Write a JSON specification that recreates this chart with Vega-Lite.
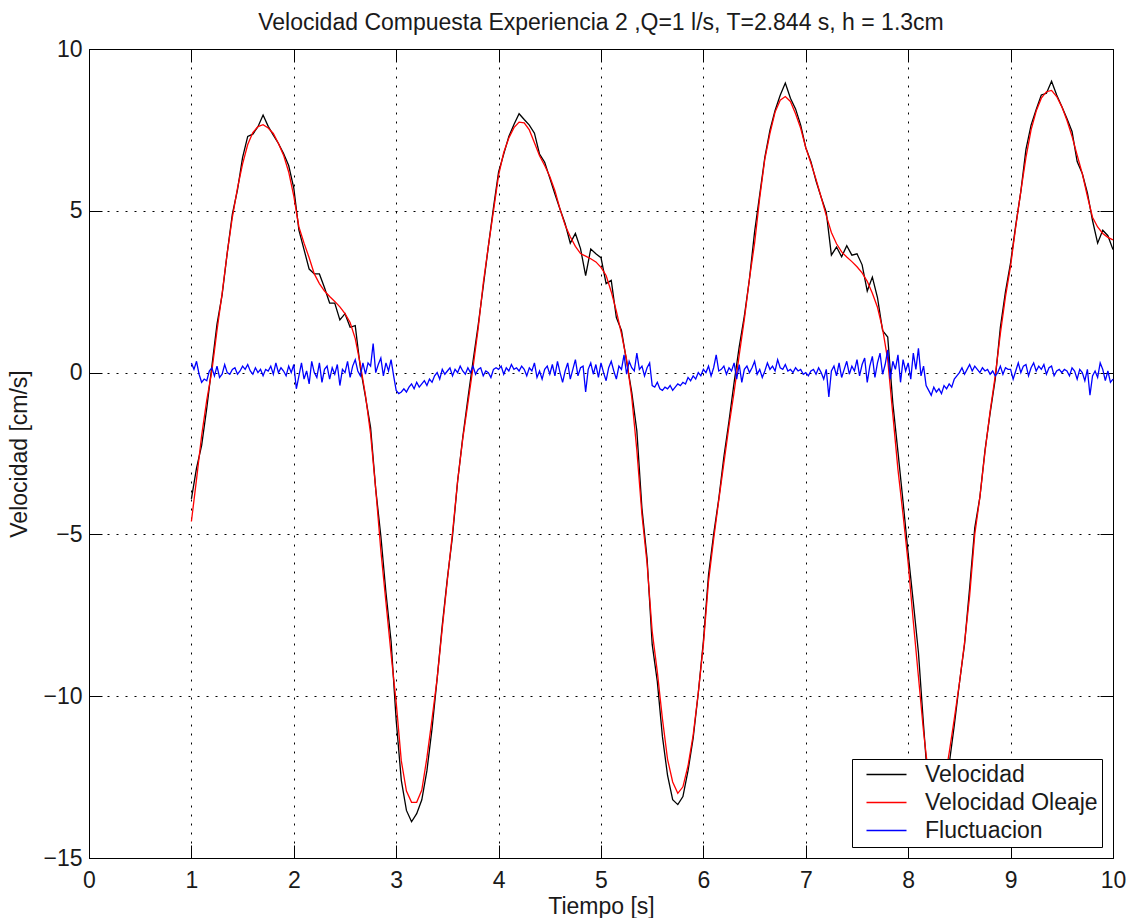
{
"$schema":"https://vega.github.io/schema/vega-lite/v6.json",
"width":1024,"height":809,
"autosize":{"type":"none"},
"padding":{"left":89,"top":49,"right":17,"bottom":60},
"background":"white",
"title":{"text":"Velocidad Compuesta Experiencia 2 ,Q=1 l/s, T=2.844 s, h = 1.3cm","fontSize":23,"fontWeight":"normal","color":"#1a1a1a","anchor":"middle","frame":"group","offset":3,"font":"Liberation Sans"},
"datasets":{
"ole":[{"t":1,"v":-4.6},{"t":1.05,"v":-3.3},{"t":1.1,"v":-1.95},{"t":1.15,"v":-0.85},{"t":1.2,"v":0.05},{"t":1.25,"v":1.3},{"t":1.3,"v":2.45},{"t":1.35,"v":3.7},{"t":1.4,"v":4.8},{"t":1.45,"v":5.7},{"t":1.5,"v":6.45},{"t":1.55,"v":7.05},{"t":1.6,"v":7.42},{"t":1.65,"v":7.6},{"t":1.7,"v":7.66},{"t":1.75,"v":7.56},{"t":1.8,"v":7.39},{"t":1.85,"v":7.08},{"t":1.9,"v":6.72},{"t":1.95,"v":6.2},
{"t":2,"v":5.45},{"t":2.05,"v":4.5},{"t":2.1,"v":4.0},{"t":2.15,"v":3.55},{"t":2.2,"v":3.05},{"t":2.25,"v":2.75},{"t":2.3,"v":2.52},{"t":2.35,"v":2.35},{"t":2.4,"v":2.2},{"t":2.45,"v":2.03},{"t":2.5,"v":1.82},{"t":2.55,"v":1.55},{"t":2.6,"v":1.05},{"t":2.65,"v":0.25},{"t":2.7,"v":-0.7},{"t":2.75,"v":-1.9},{"t":2.8,"v":-3.6},{"t":2.85,"v":-5.5},{"t":2.9,"v":-7.1},{"t":2.95,"v":-8.7},
{"t":3,"v":-10.2},{"t":3.05,"v":-12.0},{"t":3.1,"v":-12.93},{"t":3.15,"v":-13.28},{"t":3.2,"v":-13.28},{"t":3.25,"v":-12.9},{"t":3.3,"v":-11.9},{"t":3.35,"v":-10.7},{"t":3.4,"v":-9.45},{"t":3.45,"v":-7.9},{"t":3.5,"v":-6.4},{"t":3.55,"v":-4.95},{"t":3.6,"v":-3.35},{"t":3.65,"v":-2.05},{"t":3.7,"v":-0.95},{"t":3.75,"v":0.15},{"t":3.8,"v":1.35},{"t":3.85,"v":2.76},{"t":3.9,"v":3.9},{"t":3.95,"v":5.0},
{"t":4,"v":6.1},{"t":4.05,"v":6.8},{"t":4.1,"v":7.25},{"t":4.15,"v":7.57},{"t":4.2,"v":7.74},{"t":4.25,"v":7.72},{"t":4.3,"v":7.5},{"t":4.35,"v":7.1},{"t":4.4,"v":6.7},{"t":4.45,"v":6.4},{"t":4.5,"v":6.06},{"t":4.55,"v":5.62},{"t":4.6,"v":5.05},{"t":4.65,"v":4.55},{"t":4.7,"v":4.2},{"t":4.75,"v":3.9},{"t":4.8,"v":3.68},{"t":4.85,"v":3.6},{"t":4.9,"v":3.52},{"t":4.95,"v":3.42},
{"t":5,"v":3.25},{"t":5.05,"v":3.0},{"t":5.1,"v":2.5},{"t":5.15,"v":1.9},{"t":5.2,"v":1.2},{"t":5.25,"v":0.4},{"t":5.3,"v":-0.75},{"t":5.35,"v":-2.4},{"t":5.4,"v":-4.4},{"t":5.45,"v":-5.9},{"t":5.5,"v":-8.0},{"t":5.55,"v":-9.25},{"t":5.6,"v":-10.7},{"t":5.65,"v":-11.95},{"t":5.7,"v":-12.65},{"t":5.75,"v":-13.0},{"t":5.8,"v":-12.8},{"t":5.85,"v":-12.15},{"t":5.9,"v":-11.2},{"t":5.95,"v":-9.9},
{"t":6,"v":-8.4},{"t":6.05,"v":-6.45},{"t":6.1,"v":-5.15},{"t":6.15,"v":-3.95},{"t":6.2,"v":-2.8},{"t":6.25,"v":-1.65},{"t":6.3,"v":-0.6},{"t":6.35,"v":0.55},{"t":6.4,"v":1.65},{"t":6.45,"v":2.9},{"t":6.5,"v":4.0},{"t":6.55,"v":5.4},{"t":6.6,"v":6.6},{"t":6.65,"v":7.39},{"t":6.7,"v":8.05},{"t":6.75,"v":8.42},{"t":6.8,"v":8.53},{"t":6.85,"v":8.38},{"t":6.9,"v":8.0},{"t":6.95,"v":7.55},
{"t":7,"v":6.95},{"t":7.05,"v":6.47},{"t":7.1,"v":5.97},{"t":7.15,"v":5.42},{"t":7.2,"v":4.85},{"t":7.25,"v":4.33},{"t":7.3,"v":3.98},{"t":7.35,"v":3.73},{"t":7.4,"v":3.57},{"t":7.45,"v":3.43},{"t":7.5,"v":3.27},{"t":7.55,"v":3.08},{"t":7.6,"v":2.82},{"t":7.65,"v":2.45},{"t":7.7,"v":2.02},{"t":7.75,"v":1.35},{"t":7.8,"v":0.4},{"t":7.85,"v":-1.3},{"t":7.9,"v":-3.0},{"t":7.95,"v":-4.4},
{"t":8,"v":-5.9},{"t":8.05,"v":-7.7},{"t":8.1,"v":-9.4},{"t":8.15,"v":-11.1},{"t":8.2,"v":-12.5},{"t":8.25,"v":-13.1},{"t":8.3,"v":-13.2},{"t":8.35,"v":-12.7},{"t":8.4,"v":-11.75},{"t":8.45,"v":-10.7},{"t":8.5,"v":-9.6},{"t":8.55,"v":-8.35},{"t":8.6,"v":-6.9},{"t":8.65,"v":-5.0},{"t":8.7,"v":-3.85},{"t":8.75,"v":-2.45},{"t":8.8,"v":-1.2},{"t":8.85,"v":-0.1},{"t":8.9,"v":1.2},{"t":8.95,"v":2.35},
{"t":9,"v":3.3},{"t":9.05,"v":4.5},{"t":9.1,"v":5.6},{"t":9.15,"v":6.65},{"t":9.2,"v":7.5},{"t":9.25,"v":8.08},{"t":9.3,"v":8.48},{"t":9.35,"v":8.68},{"t":9.4,"v":8.72},{"t":9.45,"v":8.53},{"t":9.5,"v":8.22},{"t":9.55,"v":7.8},{"t":9.6,"v":7.3},{"t":9.65,"v":6.72},{"t":9.7,"v":6.15},{"t":9.75,"v":5.45},{"t":9.8,"v":4.8},{"t":9.85,"v":4.5},{"t":9.9,"v":4.3},{"t":9.95,"v":4.18},{"t":10,"v":4.1}],
"vel":[{"t":1,"v":-3.9},{"t":1.05,"v":-2.95},{"t":1.1,"v":-2.25},{"t":1.15,"v":-1.1},{"t":1.2,"v":0.2},{"t":1.25,"v":1.5},{"t":1.3,"v":2.4},{"t":1.35,"v":3.7},{"t":1.4,"v":4.9},{"t":1.45,"v":5.65},{"t":1.5,"v":6.65},{"t":1.55,"v":7.3},{"t":1.6,"v":7.37},{"t":1.65,"v":7.6},{"t":1.7,"v":7.96},{"t":1.75,"v":7.61},{"t":1.8,"v":7.34},{"t":1.85,"v":7.08},{"t":1.9,"v":6.77},{"t":1.95,"v":6.4},
{"t":2,"v":5.7},{"t":2.05,"v":4.4},{"t":2.1,"v":3.8},{"t":2.15,"v":3.2},{"t":2.2,"v":3.05},{"t":2.25,"v":3.05},{"t":2.3,"v":2.62},{"t":2.35,"v":2.15},{"t":2.4,"v":2.15},{"t":2.45,"v":1.63},{"t":2.5,"v":1.82},{"t":2.55,"v":1.4},{"t":2.6,"v":1.45},{"t":2.65,"v":0.15},{"t":2.7,"v":-0.75},{"t":2.75,"v":-1.7},{"t":2.8,"v":-3.6},{"t":2.85,"v":-5.05},{"t":2.9,"v":-6.8},{"t":2.95,"v":-8.3},
{"t":3,"v":-10.75},{"t":3.05,"v":-12.6},{"t":3.1,"v":-13.53},{"t":3.15,"v":-13.88},{"t":3.2,"v":-13.63},{"t":3.25,"v":-13.2},{"t":3.3,"v":-12.3},{"t":3.35,"v":-11.0},{"t":3.4,"v":-9.45},{"t":3.45,"v":-7.8},{"t":3.5,"v":-6.35},{"t":3.55,"v":-5.05},{"t":3.6,"v":-3.35},{"t":3.65,"v":-2.0},{"t":3.7,"v":-0.8},{"t":3.75,"v":0.35},{"t":3.8,"v":1.45},{"t":3.85,"v":2.66},{"t":3.9,"v":3.9},{"t":3.95,"v":5.1},
{"t":4,"v":6.2},{"t":4.05,"v":6.75},{"t":4.1,"v":7.3},{"t":4.15,"v":7.67},{"t":4.2,"v":8.0},{"t":4.25,"v":7.82},{"t":4.3,"v":7.65},{"t":4.35,"v":7.4},{"t":4.4,"v":6.75},{"t":4.45,"v":6.5},{"t":4.5,"v":6.01},{"t":4.55,"v":5.52},{"t":4.6,"v":5.05},{"t":4.65,"v":4.6},{"t":4.7,"v":4.0},{"t":4.75,"v":4.3},{"t":4.8,"v":3.83},{"t":4.85,"v":3.0},{"t":4.9,"v":3.82},{"t":4.95,"v":3.67},
{"t":5,"v":3.55},{"t":5.05,"v":2.75},{"t":5.1,"v":2.85},{"t":5.15,"v":1.7},{"t":5.2,"v":1.3},{"t":5.25,"v":0.35},{"t":5.3,"v":-0.6},{"t":5.35,"v":-1.8},{"t":5.4,"v":-4.2},{"t":5.45,"v":-5.75},{"t":5.5,"v":-8.4},{"t":5.55,"v":-9.55},{"t":5.6,"v":-11.25},{"t":5.65,"v":-12.45},{"t":5.7,"v":-13.2},{"t":5.75,"v":-13.35},{"t":5.8,"v":-13.1},{"t":5.85,"v":-12.3},{"t":5.9,"v":-11.3},{"t":5.95,"v":-9.9},
{"t":6,"v":-8.3},{"t":6.05,"v":-6.25},{"t":6.1,"v":-5.0},{"t":6.15,"v":-3.9},{"t":6.2,"v":-2.6},{"t":6.25,"v":-1.5},{"t":6.3,"v":-0.3},{"t":6.35,"v":0.8},{"t":6.4,"v":1.75},{"t":6.45,"v":2.9},{"t":6.5,"v":4.35},{"t":6.55,"v":5.5},{"t":6.6,"v":6.65},{"t":6.65,"v":7.49},{"t":6.7,"v":8.1},{"t":6.75,"v":8.57},{"t":6.8,"v":8.95},{"t":6.85,"v":8.48},{"t":6.9,"v":8.15},{"t":6.95,"v":7.65},
{"t":7,"v":6.95},{"t":7.05,"v":6.52},{"t":7.1,"v":5.92},{"t":7.15,"v":5.42},{"t":7.2,"v":4.95},{"t":7.25,"v":3.63},{"t":7.3,"v":3.88},{"t":7.35,"v":3.58},{"t":7.4,"v":3.92},{"t":7.45,"v":3.63},{"t":7.5,"v":3.67},{"t":7.55,"v":3.33},{"t":7.6,"v":2.52},{"t":7.65,"v":2.95},{"t":7.7,"v":2.32},{"t":7.75,"v":1.3},{"t":7.8,"v":1.1},{"t":7.85,"v":-0.95},{"t":7.9,"v":-2.45},{"t":7.95,"v":-4.0},
{"t":8,"v":-5.6},{"t":8.05,"v":-7.1},{"t":8.1,"v":-8.65},{"t":8.15,"v":-10.9},{"t":8.2,"v":-13.05},{"t":8.25,"v":-13.55},{"t":8.3,"v":-13.7},{"t":8.35,"v":-13.1},{"t":8.4,"v":-12.1},{"t":8.45,"v":-10.9},{"t":8.5,"v":-9.6},{"t":8.55,"v":-8.4},{"t":8.6,"v":-6.65},{"t":8.65,"v":-4.8},{"t":8.7,"v":-3.85},{"t":8.75,"v":-2.4},{"t":8.8,"v":-1.25},{"t":8.85,"v":-0.2},{"t":8.9,"v":1.4},{"t":8.95,"v":2.5},
{"t":9,"v":3.4},{"t":9.05,"v":4.55},{"t":9.1,"v":5.6},{"t":9.15,"v":6.9},{"t":9.2,"v":7.65},{"t":9.25,"v":8.13},{"t":9.3,"v":8.58},{"t":9.35,"v":8.63},{"t":9.4,"v":9.0},{"t":9.45,"v":8.58},{"t":9.5,"v":8.22},{"t":9.55,"v":7.85},{"t":9.6,"v":7.45},{"t":9.65,"v":6.52},{"t":9.7,"v":6.15},{"t":9.75,"v":5.55},{"t":9.8,"v":4.7},{"t":9.85,"v":4.0},{"t":9.9,"v":4.4},{"t":9.95,"v":4.23},{"t":10,"v":3.8}],
"flu":[{"t":1,"v":0.3},{"t":1.025,"v":0.1},{"t":1.05,"v":0.35},{"t":1.075,"v":-0.05},{"t":1.1,"v":-0.3},{"t":1.125,"v":-0.2},{"t":1.15,"v":-0.25},{"t":1.175,"v":0.05},{"t":1.2,"v":0.15},{"t":1.225,"v":-0.1},{"t":1.25,"v":0.2},{"t":1.275,"v":-0.15},{"t":1.3,"v":-0.05},{"t":1.325,"v":0.25},{"t":1.35,"v":0},{"t":1.375,"v":-0.05},{"t":1.4,"v":0.1},{"t":1.425,"v":0.15},{"t":1.45,"v":-0.05},{"t":1.475,"v":0.05},{"t":1.5,"v":0.2},{"t":1.525,"v":0.1},{"t":1.55,"v":0.25},{"t":1.575,"v":0.05},{"t":1.6,"v":-0.05},{"t":1.625,"v":0.15},{"t":1.65,"v":0},{"t":1.675,"v":0.1},{"t":1.7,"v":-0.1},{"t":1.725,"v":0.1},{"t":1.75,"v":0.05},{"t":1.775,"v":0.2},{"t":1.8,"v":-0.05},{"t":1.825,"v":0.3},{"t":1.85,"v":0},{"t":1.875,"v":0.15},{"t":1.9,"v":0.05},{"t":1.925,"v":-0.1},{"t":1.95,"v":0.2},{"t":1.975,"v":0},
{"t":2,"v":0.25},{"t":2.025,"v":-0.5},{"t":2.05,"v":-0.1},{"t":2.075,"v":0.3},{"t":2.1,"v":-0.2},{"t":2.125,"v":0.05},{"t":2.15,"v":-0.35},{"t":2.175,"v":0.35},{"t":2.2,"v":0},{"t":2.225,"v":-0.15},{"t":2.25,"v":0.3},{"t":2.275,"v":-0.3},{"t":2.3,"v":0.1},{"t":2.325,"v":0.2},{"t":2.35,"v":-0.2},{"t":2.375,"v":0.15},{"t":2.4,"v":-0.05},{"t":2.425,"v":0.25},{"t":2.45,"v":-0.4},{"t":2.475,"v":0.1},{"t":2.5,"v":0},{"t":2.525,"v":0.35},{"t":2.55,"v":-0.15},{"t":2.575,"v":0.2},{"t":2.6,"v":0.4},{"t":2.625,"v":0.05},{"t":2.65,"v":-0.1},{"t":2.675,"v":0.3},{"t":2.7,"v":-0.05},{"t":2.725,"v":0.3},{"t":2.75,"v":0.2},{"t":2.775,"v":0.9},{"t":2.8,"v":0},{"t":2.825,"v":0.25},{"t":2.85,"v":0.45},{"t":2.875,"v":-0.1},{"t":2.9,"v":0.3},{"t":2.925,"v":0.05},{"t":2.95,"v":0.4},{"t":2.975,"v":-0.1},
{"t":3,"v":-0.55},{"t":3.025,"v":-0.65},{"t":3.05,"v":-0.6},{"t":3.075,"v":-0.5},{"t":3.1,"v":-0.6},{"t":3.125,"v":-0.45},{"t":3.15,"v":-0.35},{"t":3.175,"v":-0.5},{"t":3.2,"v":-0.3},{"t":3.225,"v":-0.45},{"t":3.25,"v":-0.35},{"t":3.275,"v":-0.25},{"t":3.3,"v":-0.4},{"t":3.325,"v":-0.2},{"t":3.35,"v":-0.3},{"t":3.375,"v":-0.1},{"t":3.4,"v":0},{"t":3.425,"v":-0.2},{"t":3.45,"v":0.1},{"t":3.475,"v":-0.05},{"t":3.5,"v":0.05},{"t":3.525,"v":0.15},{"t":3.55,"v":-0.1},{"t":3.575,"v":0.1},{"t":3.6,"v":0},{"t":3.625,"v":0.2},{"t":3.65,"v":0.05},{"t":3.675,"v":-0.05},{"t":3.7,"v":0.15},{"t":3.725,"v":0},{"t":3.75,"v":0.2},{"t":3.775,"v":-0.05},{"t":3.8,"v":0.1},{"t":3.825,"v":0.15},{"t":3.85,"v":-0.1},{"t":3.875,"v":0.05},{"t":3.9,"v":0},{"t":3.925,"v":-0.15},{"t":3.95,"v":0.1},{"t":3.975,"v":0.15},
{"t":4,"v":0.1},{"t":4.025,"v":0.2},{"t":4.05,"v":-0.05},{"t":4.075,"v":0.15},{"t":4.1,"v":0.05},{"t":4.125,"v":0.25},{"t":4.15,"v":0.1},{"t":4.175,"v":0.15},{"t":4.2,"v":0.05},{"t":4.225,"v":0.2},{"t":4.25,"v":0.1},{"t":4.275,"v":-0.1},{"t":4.3,"v":0.15},{"t":4.325,"v":0.05},{"t":4.35,"v":0.3},{"t":4.375,"v":-0.15},{"t":4.4,"v":0.05},{"t":4.425,"v":-0.2},{"t":4.45,"v":0.1},{"t":4.475,"v":0.2},{"t":4.5,"v":-0.05},{"t":4.525,"v":0.25},{"t":4.55,"v":-0.1},{"t":4.575,"v":0.35},{"t":4.6,"v":0},{"t":4.625,"v":-0.3},{"t":4.65,"v":0.05},{"t":4.675,"v":0.3},{"t":4.7,"v":-0.2},{"t":4.725,"v":0.1},{"t":4.75,"v":0.4},{"t":4.775,"v":-0.1},{"t":4.8,"v":0.15},{"t":4.825,"v":0.2},{"t":4.85,"v":-0.6},{"t":4.875,"v":0.1},{"t":4.9,"v":0.3},{"t":4.925,"v":-0.05},{"t":4.95,"v":0.25},{"t":4.975,"v":-0.15},
{"t":5,"v":0.3},{"t":5.025,"v":0},{"t":5.05,"v":-0.25},{"t":5.075,"v":0.15},{"t":5.1,"v":0.35},{"t":5.125,"v":0.05},{"t":5.15,"v":-0.2},{"t":5.175,"v":0.2},{"t":5.2,"v":0.1},{"t":5.225,"v":0.55},{"t":5.25,"v":-0.05},{"t":5.275,"v":0.35},{"t":5.3,"v":0.15},{"t":5.325,"v":0.05},{"t":5.35,"v":0.6},{"t":5.375,"v":0.1},{"t":5.4,"v":0.2},{"t":5.425,"v":-0.1},{"t":5.45,"v":0.15},{"t":5.475,"v":0.3},{"t":5.5,"v":-0.4},{"t":5.525,"v":-0.45},{"t":5.55,"v":-0.3},{"t":5.575,"v":-0.5},{"t":5.6,"v":-0.55},{"t":5.625,"v":-0.45},{"t":5.65,"v":-0.5},{"t":5.675,"v":-0.4},{"t":5.7,"v":-0.55},{"t":5.725,"v":-0.45},{"t":5.75,"v":-0.35},{"t":5.775,"v":-0.4},{"t":5.8,"v":-0.3},{"t":5.825,"v":-0.35},{"t":5.85,"v":-0.15},{"t":5.875,"v":-0.25},{"t":5.9,"v":-0.1},{"t":5.925,"v":-0.2},{"t":5.95,"v":0},{"t":5.975,"v":-0.1},
{"t":6,"v":0.1},{"t":6.025,"v":0},{"t":6.05,"v":0.2},{"t":6.075,"v":-0.1},{"t":6.1,"v":0.15},{"t":6.125,"v":0.55},{"t":6.15,"v":0.05},{"t":6.175,"v":0.1},{"t":6.2,"v":0.2},{"t":6.225,"v":-0.05},{"t":6.25,"v":0.15},{"t":6.275,"v":0.05},{"t":6.3,"v":0.3},{"t":6.325,"v":-0.2},{"t":6.35,"v":0.25},{"t":6.375,"v":-0.3},{"t":6.4,"v":0.1},{"t":6.425,"v":0.2},{"t":6.45,"v":0},{"t":6.475,"v":0.15},{"t":6.5,"v":0.35},{"t":6.525,"v":-0.05},{"t":6.55,"v":0.1},{"t":6.575,"v":-0.15},{"t":6.6,"v":0.05},{"t":6.625,"v":0.3},{"t":6.65,"v":0.1},{"t":6.675,"v":0.2},{"t":6.7,"v":0.05},{"t":6.725,"v":0.4},{"t":6.75,"v":0.15},{"t":6.775,"v":0.1},{"t":6.8,"v":0.25},{"t":6.825,"v":0.05},{"t":6.85,"v":0.1},{"t":6.875,"v":0},{"t":6.9,"v":0.15},{"t":6.925,"v":0.05},{"t":6.95,"v":0.1},{"t":6.975,"v":-0.05},
{"t":7,"v":0},{"t":7.025,"v":-0.1},{"t":7.05,"v":0.05},{"t":7.075,"v":0.1},{"t":7.1,"v":-0.05},{"t":7.125,"v":0.15},{"t":7.15,"v":0},{"t":7.175,"v":-0.2},{"t":7.2,"v":0.1},{"t":7.225,"v":-0.75},{"t":7.25,"v":0.05},{"t":7.275,"v":0.2},{"t":7.3,"v":-0.1},{"t":7.325,"v":0.3},{"t":7.35,"v":-0.15},{"t":7.375,"v":0.1},{"t":7.4,"v":0.35},{"t":7.425,"v":-0.05},{"t":7.45,"v":0.2},{"t":7.475,"v":0.05},{"t":7.5,"v":0.4},{"t":7.525,"v":-0.1},{"t":7.55,"v":0.25},{"t":7.575,"v":0.45},{"t":7.6,"v":-0.3},{"t":7.625,"v":0.2},{"t":7.65,"v":0.5},{"t":7.675,"v":-0.15},{"t":7.7,"v":0.3},{"t":7.725,"v":0.6},{"t":7.75,"v":-0.05},{"t":7.775,"v":0.25},{"t":7.8,"v":0.7},{"t":7.825,"v":-0.2},{"t":7.85,"v":0.35},{"t":7.875,"v":0.1},{"t":7.9,"v":0.55},{"t":7.925,"v":-0.3},{"t":7.95,"v":0.4},{"t":7.975,"v":0.05},
{"t":8,"v":0.3},{"t":8.025,"v":-0.2},{"t":8.05,"v":0.6},{"t":8.075,"v":0.1},{"t":8.1,"v":0.75},{"t":8.125,"v":-0.1},{"t":8.15,"v":0.2},{"t":8.175,"v":-0.4},{"t":8.2,"v":-0.55},{"t":8.225,"v":-0.7},{"t":8.25,"v":-0.45},{"t":8.275,"v":-0.6},{"t":8.3,"v":-0.5},{"t":8.325,"v":-0.65},{"t":8.35,"v":-0.4},{"t":8.375,"v":-0.5},{"t":8.4,"v":-0.35},{"t":8.425,"v":-0.45},{"t":8.45,"v":-0.2},{"t":8.475,"v":-0.1},{"t":8.5,"v":0},{"t":8.525,"v":0.15},{"t":8.55,"v":-0.05},{"t":8.575,"v":0.1},{"t":8.6,"v":0.25},{"t":8.625,"v":0.05},{"t":8.65,"v":0.2},{"t":8.675,"v":0.1},{"t":8.7,"v":0},{"t":8.725,"v":0.15},{"t":8.75,"v":0.05},{"t":8.775,"v":0.1},{"t":8.8,"v":-0.05},{"t":8.825,"v":0.05},{"t":8.85,"v":-0.1},{"t":8.875,"v":0},{"t":8.9,"v":0.2},{"t":8.925,"v":-0.05},{"t":8.95,"v":0.15},{"t":8.975,"v":0.1},
{"t":9,"v":0.1},{"t":9.025,"v":-0.2},{"t":9.05,"v":0.05},{"t":9.075,"v":0.3},{"t":9.1,"v":0},{"t":9.125,"v":0.2},{"t":9.15,"v":0.25},{"t":9.175,"v":-0.1},{"t":9.2,"v":0.15},{"t":9.225,"v":0.3},{"t":9.25,"v":0.05},{"t":9.275,"v":0.2},{"t":9.3,"v":0.1},{"t":9.325,"v":0.25},{"t":9.35,"v":-0.05},{"t":9.375,"v":0.15},{"t":9.4,"v":0.2},{"t":9.425,"v":-0.1},{"t":9.45,"v":0.05},{"t":9.475,"v":0.1},{"t":9.5,"v":0},{"t":9.525,"v":0.1},{"t":9.55,"v":0.05},{"t":9.575,"v":-0.1},{"t":9.6,"v":0.15},{"t":9.625,"v":0.05},{"t":9.65,"v":-0.2},{"t":9.675,"v":0.1},{"t":9.7,"v":0},{"t":9.725,"v":-0.25},{"t":9.75,"v":0.1},{"t":9.775,"v":-0.7},{"t":9.8,"v":-0.1},{"t":9.825,"v":0.05},{"t":9.85,"v":-0.15},{"t":9.875,"v":0.3},{"t":9.9,"v":0.1},{"t":9.925,"v":-0.25},{"t":9.95,"v":0.05},{"t":9.975,"v":-0.3},{"t":10,"v":-0.2}]
},
"layer":[
{"data":{"name":"vel"},"mark":{"type":"line","strokeWidth":1.3},
 "encoding":{
  "x":{"field":"t","type":"quantitative","scale":{"domain":[0,10],"nice":false,"zero":false},
       "axis":{"title":"Tiempo [s]","values":[0,1,2,3,4,5,6,7,8,9,10],"grid":true}},
  "y":{"field":"v","type":"quantitative","scale":{"domain":[-15,10],"nice":false,"zero":false},
       "axis":{"title":"Velocidad [cm/s]","values":[-15,-10,-5,0,5,10],"grid":true}},
  "color":{"datum":"Velocidad","type":"nominal","scale":{"domain":["Velocidad","Velocidad Oleaje","Fluctuacion"],"range":["#000000","#ff0000","#0000ff"]},"legend":{"title":null}}}},
{"data":{"name":"ole"},"mark":{"type":"line","strokeWidth":1.3},
 "encoding":{"x":{"field":"t","type":"quantitative","axis":null},"y":{"field":"v","type":"quantitative","axis":null},
  "color":{"datum":"Velocidad Oleaje","type":"nominal"}}},
{"data":{"name":"flu"},"mark":{"type":"line","strokeWidth":1.3},
 "encoding":{"x":{"field":"t","type":"quantitative","axis":null},"y":{"field":"v","type":"quantitative","axis":null},
  "color":{"datum":"Fluctuacion","type":"nominal"}}},
{"data":{"name":"ole"},"mark":{"type":"point","opacity":0},
 "encoding":{
  "x":{"field":"t","type":"quantitative","axis":{"orient":"top","title":null,"labels":false,"grid":false,"domain":false,"values":[0,1,2,3,4,5,6,7,8,9,10]}},
  "y":{"field":"v","type":"quantitative","axis":{"orient":"right","title":null,"labels":false,"grid":false,"domain":false,"values":[-15,-10,-5,0,5,10]}}}}
],
"resolve":{"axis":{"x":"independent","y":"independent"}},
"config":{
 "font":"Liberation Sans",
 "view":{"stroke":"#000000","strokeWidth":1},
 "axis":{"domainColor":"#000000","domainWidth":1,"tickColor":"#000000","tickSize":-13,"tickWidth":1,
   "gridColor":"#000000","gridOpacity":1,"gridDash":[2,7],"gridWidth":1,
   "labelFontSize":23,"labelColor":"#1a1a1a","labelFont":"Liberation Sans",
   "titleFontSize":23,"titleFontWeight":"normal","titleColor":"#1a1a1a","titleFont":"Liberation Sans",
   "labelFlush":false,"labelOverlap":false},
 "axisX":{"labelPadding":24,"titlePadding":3},
 "axisY":{"labelPadding":20,"titlePadding":11},
 "legend":{"orient":"bottom-right","offset":11,"padding":4,"rowPadding":4,"fillColor":"#ffffff","strokeColor":"#000000","cornerRadius":0,
   "labelFontSize":23,"labelFont":"Liberation Sans","labelColor":"#1a1a1a","labelLimit":400,"labelOffset":27,
   "symbolType":"M-2,0H2","symbolSize":400,"symbolStrokeWidth":1.5,"symbolOffset":19,"labelExpr":"datum.label + '\u00a0\u00a0'"}
}
}
